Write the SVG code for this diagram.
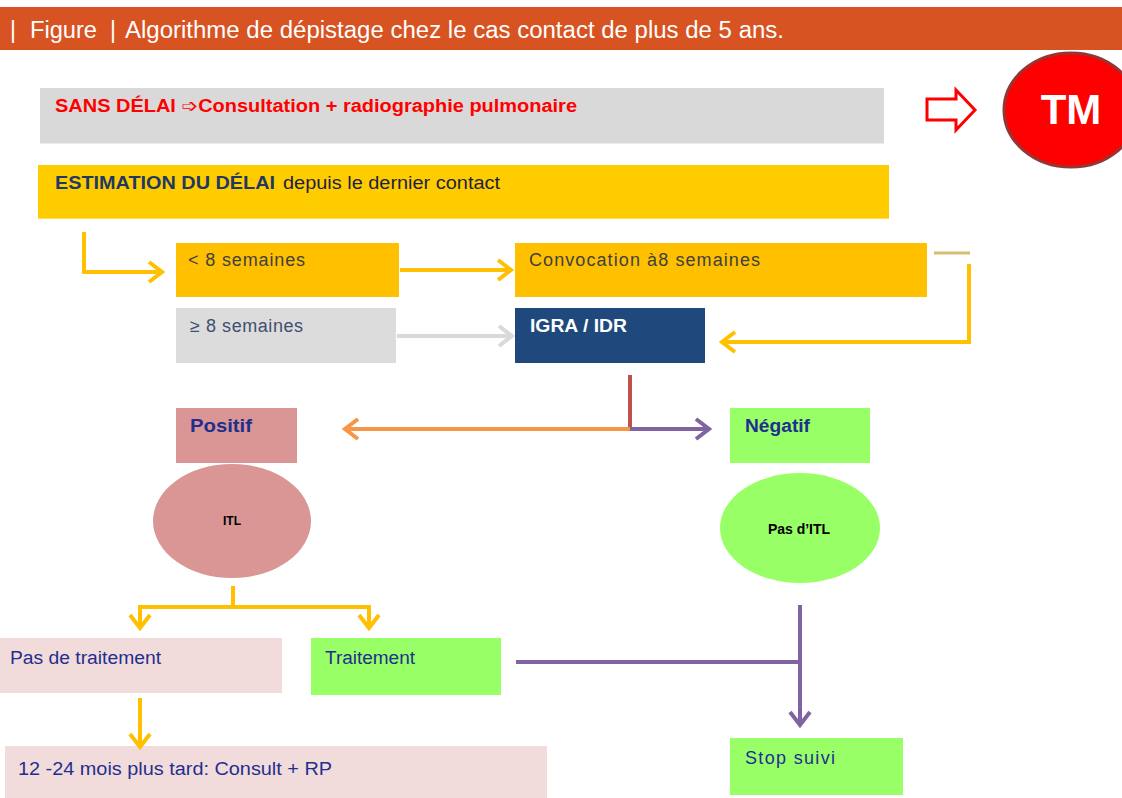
<svg xmlns="http://www.w3.org/2000/svg" width="1122" height="798" viewBox="0 0 1122 798">
<style>
text{font-family:"Liberation Sans","DejaVu Sans",Arial,sans-serif}
.lbl{font-size:18px;fill:#404040}
.blue{font-size:18px;fill:#1F2F8F}
.bold{font-weight:bold}
.conn{fill:none;stroke-width:4}
</style>
<defs>
<marker id="aY" markerUnits="userSpaceOnUse" viewBox="0 0 20 24" markerWidth="20" markerHeight="24" refX="17" refY="12" orient="auto"><path d="M4,2 L17,12 L4,22" fill="none" stroke="#FFC000" stroke-width="4"/></marker>
<marker id="aG" markerUnits="userSpaceOnUse" viewBox="0 0 20 24" markerWidth="20" markerHeight="24" refX="17" refY="12" orient="auto"><path d="M4,2 L17,12 L4,22" fill="none" stroke="#D9D9D9" stroke-width="4"/></marker>
<marker id="aO" markerUnits="userSpaceOnUse" viewBox="0 0 20 24" markerWidth="20" markerHeight="24" refX="17" refY="12" orient="auto"><path d="M4,2 L17,12 L4,22" fill="none" stroke="#F79646" stroke-width="4"/></marker>
<marker id="aP" markerUnits="userSpaceOnUse" viewBox="0 0 20 24" markerWidth="20" markerHeight="24" refX="17" refY="12" orient="auto"><path d="M4,2 L17,12 L4,22" fill="none" stroke="#8064A2" stroke-width="4"/></marker>
</defs>

<g id="header">
<rect x="0" y="7" width="1122" height="43" fill="#D85322"/>
<text y="38" font-size="23" fill="#FFFFFF"><tspan x="10">|</tspan><tspan x="30" textLength="67" lengthAdjust="spacingAndGlyphs">Figure</tspan><tspan x="110">|</tspan><tspan x="125" textLength="659" lengthAdjust="spacingAndGlyphs">Algorithme de dépistage chez le cas contact de plus de 5 ans.</tspan></text>
</g>

<g id="sans-delai">
<rect x="40" y="88" width="844" height="56" fill="#D9D9D9"/>
<line x1="40" y1="143.5" x2="884" y2="143.5" stroke="#EBEBEB" stroke-width="1"/>
<text x="55" y="112" font-size="18" font-weight="bold" fill="#FF0000" textLength="522" lengthAdjust="spacingAndGlyphs">SANS DÉLAI ➩Consultation  + radiographie pulmonaire</text>
</g>

<g id="tm-arrow">
<path d="M927,99 L956,99 L956,90 L975,110 L956,130 L956,120 L927,120 Z" fill="#FFFFFF" stroke="#FF0000" stroke-width="3" stroke-linejoin="miter"/>
</g>

<g id="tm">
<ellipse cx="1071" cy="110" rx="67" ry="57" fill="#FF0000" stroke="#943634" stroke-width="3"/>
<text x="1071" y="124" font-size="42" font-weight="bold" fill="#FFFFFF" text-anchor="middle">TM</text>
</g>

<g id="estimation">
<rect x="38" y="165" width="851" height="54" fill="#FFCC00"/>
<line x1="38" y1="218.5" x2="889" y2="218.5" stroke="#FFDD55" stroke-width="1"/>
<text x="55" y="189" font-size="18"><tspan font-weight="bold" fill="#1F3864" textLength="220" lengthAdjust="spacingAndGlyphs">ESTIMATION DU DÉLAI</tspan><tspan x="283" fill="#1F1F3F" textLength="217" lengthAdjust="spacingAndGlyphs">depuis le dernier contact</tspan></text>
</g>

<g id="lt8">
<rect x="176" y="243" width="223" height="54" fill="#FFC000"/>
<text class="lbl" x="188" y="266" textLength="117" lengthAdjust="spacing">&lt; 8 semaines</text>
</g>

<g id="convocation">
<rect x="515" y="243" width="412" height="54" fill="#FFC000"/>
<text class="lbl" x="529" y="266" textLength="231" lengthAdjust="spacing">Convocation à8 semaines</text>
</g>

<g id="ge8">
<rect x="176" y="308" width="220" height="55" fill="#DCDCDC"/>
<text x="190" y="332" font-size="18" fill="#3F4F6F" textLength="113" lengthAdjust="spacing">≥ 8 semaines</text>
</g>

<g id="igra">
<rect x="515" y="308" width="190" height="55" fill="#1F497D"/>
<text x="530" y="332" font-size="18" font-weight="bold" fill="#FFFFFF" textLength="97" lengthAdjust="spacingAndGlyphs">IGRA / IDR</text>
</g>

<g id="positif">
<rect x="176" y="408" width="121" height="55" fill="#D99694"/>
<text class="blue bold" x="190" y="432" textLength="62" lengthAdjust="spacingAndGlyphs">Positif</text>
</g>

<g id="itl">
<ellipse cx="232" cy="521" rx="79" ry="57" fill="#D99694"/>
<text x="232" y="525" font-size="12" font-weight="bold" fill="#000000" text-anchor="middle">ITL</text>
</g>

<g id="negatif">
<rect x="730" y="408" width="140" height="55" fill="#99FF66"/>
<text class="blue bold" x="745" y="432" textLength="65" lengthAdjust="spacingAndGlyphs">Négatif</text>
</g>

<g id="pas-itl">
<ellipse cx="800" cy="528" rx="80" ry="55" fill="#99FF66"/>
<text x="799" y="534" font-size="14" font-weight="bold" fill="#000000" text-anchor="middle">Pas d’ITL</text>
</g>

<g id="pas-traitement">
<rect x="0" y="638" width="282" height="55" fill="#F2DCDB"/>
<text class="blue" x="10" y="664" textLength="151" lengthAdjust="spacingAndGlyphs">Pas de traitement</text>
</g>

<g id="traitement">
<rect x="311" y="638" width="190" height="57" fill="#99FF66"/>
<text class="blue" x="325" y="664" textLength="90" lengthAdjust="spacingAndGlyphs">Traitement</text>
</g>

<g id="suivi-12-24">
<rect x="5" y="746" width="542" height="52" fill="#F2DCDB"/>
<text class="blue" x="18" y="775" font-size="20" textLength="314" lengthAdjust="spacingAndGlyphs">12 -24  mois plus tard: Consult + RP</text>
</g>

<g id="stop-suivi">
<rect x="730" y="738" width="173" height="57" fill="#99FF66"/>
<text class="blue" x="745" y="764" textLength="90" lengthAdjust="spacing">Stop suivi</text>
</g>

<g id="connectors">
<polyline class="conn" points="84,232 84,272 162,272" stroke="#FFC000" marker-end="url(#aY)"/>
<line class="conn" x1="400" y1="270" x2="511" y2="270" stroke="#FFC000" marker-end="url(#aY)"/>
<line x1="934" y1="253" x2="970" y2="253" stroke="#D6BE72" stroke-width="3"/>
<polyline class="conn" points="969,264 969,342 722,342" stroke="#FFC000" marker-end="url(#aY)"/>
<line class="conn" x1="397" y1="336" x2="512" y2="336" stroke="#D9D9D9" marker-end="url(#aG)"/>
<line class="conn" x1="630" y1="375" x2="630" y2="429" stroke="#C0504D"/>
<line class="conn" x1="630" y1="429" x2="345" y2="429" stroke="#F79646" marker-end="url(#aO)"/>
<line class="conn" x1="630" y1="429" x2="709" y2="429" stroke="#8064A2" marker-end="url(#aP)"/>
<line class="conn" x1="233" y1="586" x2="233" y2="607" stroke="#FFC000"/>
<polyline class="conn" points="140,628 140,607 369,607 369,628" stroke="#FFC000" marker-end="url(#aY)"/>
<line class="conn" x1="140" y1="607" x2="140" y2="628" stroke="#FFC000" marker-end="url(#aY)"/>
<line class="conn" x1="140" y1="698" x2="140" y2="747" stroke="#FFC000" marker-end="url(#aY)"/>
<line class="conn" x1="516" y1="662" x2="800" y2="662" stroke="#8064A2"/>
<line class="conn" x1="800" y1="605" x2="800" y2="725" stroke="#8064A2" marker-end="url(#aP)"/>
</g>
</svg>
